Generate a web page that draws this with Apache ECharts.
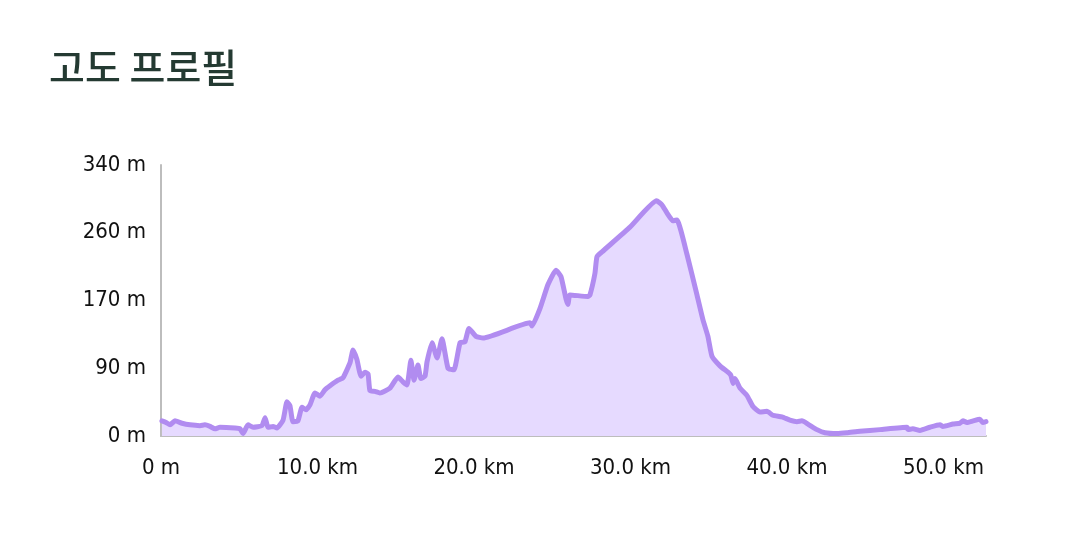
<!DOCTYPE html>
<html>
<head>
<meta charset="utf-8">
<style>
  html, body { margin: 0; padding: 0; background: #fff; }
  #chart { width: 1080px; height: 553px; }
</style>
<script src="https://cdn.jsdelivr.net/npm/echarts@6/dist/echarts.min.js"></script>
</head>
<body>
<div id="chart"></div>
<script>
// 거리 (km)
const distKm = [
  0.06, 0.32, 0.58, 0.89, 1.34, 1.85, 2.49, 2.81, 3.13, 3.45, 3.77, 4.73, 5.05, 5.24, 5.56, 5.88,
  6.45, 6.65, 6.84, 7.16, 7.41, 7.80, 8.05, 8.24, 8.43, 8.75, 9.01, 9.27, 9.52, 9.84, 10.16, 10.48,
  10.80, 11.31, 11.63, 12.08, 12.27, 12.52, 12.78, 13.04, 13.23, 13.35, 13.67, 13.99, 14.63, 15.14,
  15.46, 15.72, 15.97, 16.17, 16.42, 16.61, 16.87, 17.00, 17.32, 17.64, 17.96, 18.34, 18.72, 19.11,
  19.42, 19.68, 20.13, 20.58, 23.58, 23.71, 24.22, 24.73, 25.24, 25.56, 25.88, 26.01, 26.13, 27.28,
  27.41, 27.73, 27.86, 28.18, 29.97, 31.67, 32.01, 32.33, 32.71, 32.97, 33.61, 34.25, 34.63, 34.95,
  35.21, 35.72, 36.23, 36.42, 36.55, 36.68, 37.00, 37.44, 37.83, 38.27, 38.72, 39.10, 39.68, 40.19,
  40.64, 40.96, 41.34, 41.92, 42.43, 43.20, 43.83, 44.66, 45.94, 47.67, 47.73, 48.05, 48.50, 49.14,
  49.78, 49.97, 50.61, 51.05, 51.25, 51.50, 51.89, 52.33, 52.52, 52.72
];
// 고도 (m)
const elevM = [
  19, 17, 14, 19, 16, 14, 13, 14, 12, 9, 11, 10, 9, 3, 14, 11,
  13, 23, 11, 12, 10, 20, 43, 38, 18, 19, 36, 33, 39, 54, 50, 58,
  63, 70, 73, 92, 108, 96, 75, 80, 78, 57, 56, 54, 60, 74,
  68, 64, 95, 70, 89, 72, 75, 93, 117, 98, 122, 85, 83, 117,
  118, 135, 125, 123, 142, 138, 160, 190, 208, 200, 172, 165, 177, 175,
  177, 204, 225, 231, 262, 295, 290, 280, 270, 271, 228, 177, 146, 125,
  100, 88, 80, 76, 66, 72, 60, 51, 37, 30, 31, 26, 24, 20,
  18, 19, 15, 8, 4, 3, 4, 6, 8, 11, 8, 9, 7, 11,
  14, 12, 15, 16, 19, 17, 19, 21, 17, 18
];
const yMax = 340;
const yStep = 85;
const xStep = 10;

const chart = echarts.init(document.getElementById('chart'));
const labelFont = '"Liberation Sans Narrow", "DejaVu Sans Condensed", "Roboto", sans-serif';

const option = {
  animation: false,
  title: {
    text: '고도 프로필',
    left: 44,
    top: 43,
    textStyle: {
      fontFamily: '"Noto Sans CJK KR", sans-serif',
      fontSize: 39,
      fontWeight: 500,
      color: '#243a32'
    }
  },
  grid: { left: 161, right: 94, top: 165, bottom: 117 },
  xAxis: {
    type: 'value',
    min: 0,
    max: distKm[distKm.length - 1],
    interval: xStep,
    splitLine: { show: false },
    axisTick: { show: false },
    axisLine: { show: true, lineStyle: { color: '#bdbdbd', width: 2 } },
    axisLabel: {
      showMaxLabel: false,
      margin: 21,
      fontFamily: labelFont,
      fontSize: 22,
      color: '#111',
      formatter: (v) => (v === 0 ? '0 m' : v.toFixed(1) + ' km')
    }
  },
  yAxis: {
    type: 'value',
    min: 0,
    max: yMax,
    interval: yStep,
    splitLine: { show: false },
    axisTick: { show: false },
    axisLine: { show: true, lineStyle: { color: '#bdbdbd', width: 2 } },
    axisLabel: {
      margin: 15,
      fontFamily: labelFont,
      fontSize: 22,
      color: '#111',
      formatter: (v) => Math.round(v / 10) * 10 + ' m'
    }
  },
  series: [{
    type: 'line',
    data: distKm.map((d, i) => [d, elevM[i]]),
    showSymbol: false,
    smooth: 0.15,
    lineStyle: { color: '#b18cf0', width: 5, cap: 'round', join: 'round' },
    areaStyle: { color: '#e6daff', opacity: 1 }
  }]
};
chart.setOption(option);
</script>
</body>
</html>
